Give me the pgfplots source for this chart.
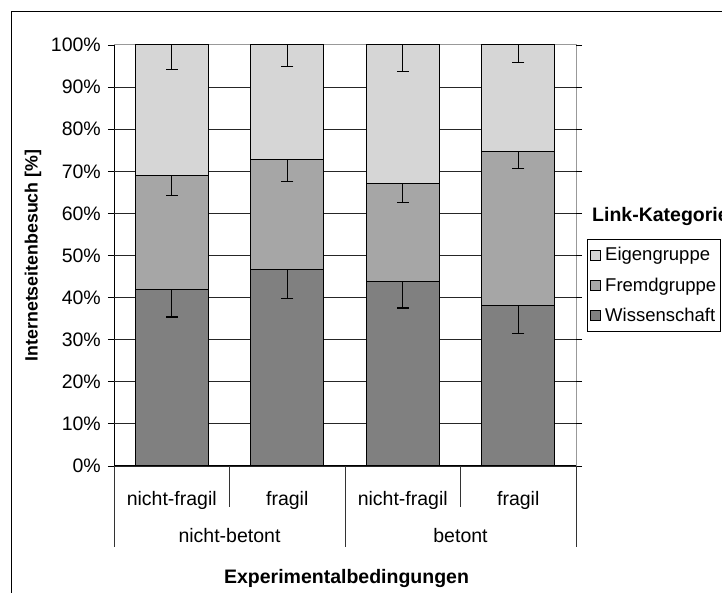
\documentclass[border=0pt]{standalone}
\usepackage{pgfplots}
\pgfplotsset{compat=1.18}
\usepackage{fontspec}
\setmainfont{Liberation Sans}
\definecolor{eigen}{HTML}{D6D6D6}
\definecolor{fremd}{HTML}{A6A6A6}
\definecolor{wiss}{HTML}{808080}
\newcommand\fnt{\fontsize{19.5}{23}\selectfont}
\pgfplotsset{errstyle/.style={draw=none, mark=none, forget plot,
  error bars/.cd, y dir=minus, y explicit, error mark=-,
  error bar style={draw=black, line width=1.3pt},
  error mark options={rotate=90, draw=black, line width=1.3pt, mark size=6pt}}}
\begin{document}
\begin{tikzpicture}[x=1pt,y=1pt]
% outer frame
\draw[black, line width=1.1pt] (-102.3,-140) -- (-102.3,454.3) -- (640,454.3);
% plot border
\draw[black!40, line width=1pt] (0,421) -- (462,421) -- (462,0);
\draw[black, line width=1pt] (0,0) -- (0,421);
\begin{axis}[at={(0pt,0pt)}, anchor=south west, scale only axis,
  width=462pt, height=421pt,
  ybar stacked, bar width=0.632,
  xmin=-0.5, xmax=3.5, ymin=0, ymax=100,
  axis line style={draw=none},
  xtick={0,1,2,3}, xticklabels={nicht-fragil,fragil,nicht-fragil,fragil},
  xtick style={draw=none},
  xticklabel style={font=\fnt, anchor=base, inner sep=0pt, yshift=-34pt},
  ytick={0,10,...,90},
  yticklabels={0\%,10\%,20\%,30\%,40\%,50\%,60\%,70\%,80\%,90\%},
  extra y ticks={100}, extra y tick labels={100\%},
  extra y tick style={grid=none},
  ymajorgrids, major grid style={black!85, line width=0.9pt},
  tick align=outside, major tick length=6pt,
  ytick style={black, line width=0.9pt},
  yticklabel style={font=\fnt, anchor=east, inner sep=0pt, xshift=-7pt},
  reverse legend,
  legend cell align=left,
  legend style={at={(1.0238,0.539)}, anchor=north west,
    font=\fontsize{18.5}{22}\selectfont,
    draw=black, line width=0.8pt, inner xsep=2.5pt, inner ysep=6pt,
    row sep=11.5pt, column sep=3pt, nodes={inner xsep=1.5pt}},
  legend image code/.code={\draw[#1, line width=0.8pt] (0pt,-5pt) rectangle (10pt,5pt);},
]
\addplot[fill=wiss, draw=black, line width=1pt] coordinates {(0,41.9) (1,46.6) (2,43.8) (3,38.1)};
\addplot[fill=fremd, draw=black, line width=1pt] coordinates {(0,27.1) (1,26.1) (2,23.2) (3,36.7)};
\addplot[fill=eigen, draw=black, line width=1pt] coordinates {(0,31.0) (1,27.3) (2,33.0) (3,25.2)};
\legend{Wissenschaft,Fremdgruppe,Eigengruppe}
\end{axis}
\begin{axis}[at={(0pt,0pt)}, anchor=south west, scale only axis,
  width=462pt, height=421pt,
  xmin=-0.5, xmax=3.5, ymin=0, ymax=100, hide axis]
\addplot[errstyle]
  coordinates {(0,41.9) +- (0,6.5) (1,46.6) +- (0,6.8) (2,43.8) +- (0,6.3) (3,38.1) +- (0,6.7)};
\addplot[errstyle]
  coordinates {(0,69.0) +- (0,4.8) (1,72.7) +- (0,5.1) (2,67.0) +- (0,4.4) (3,74.8) +- (0,4.1)};
\addplot[errstyle]
  coordinates {(0,100) +- (0,5.9) (1,100) +- (0,5.1) (2,100) +- (0,6.3) (3,100) +- (0,4.2)};
\end{axis}
% category separators
\draw[black!80, line width=1pt] (115.5,0) -- (115.5,-41) (346.5,0) -- (346.5,-41);
\draw[black!80, line width=1pt] (0,0) -- (0,-81) (231,0) -- (231,-81) (462,0) -- (462,-81);
\draw[black, line width=1pt] (0,0) -- (462,0);
\node[anchor=base, font=\fnt, inner sep=0pt] at (115.5,-77) {nicht-betont};
\node[anchor=base, font=\fnt, inner sep=0pt] at (346.5,-77) {betont};
\node[anchor=base, font=\bfseries\fnt, inner sep=0pt] at (232.5,-118) {Experimentalbedingungen};
\node[rotate=90, font=\bfseries\fontsize{17.8}{20}\selectfont, inner sep=0pt] at (-81,210.5) {Internetseitenbesuch [\%]};
\node[anchor=base west, font=\bfseries\fnt, inner sep=0pt] at (478,244) {Link-Kategorie};
\pgfresetboundingbox
\useasboundingbox (-114,-127) rectangle (608,466);
\end{tikzpicture}
\end{document}
